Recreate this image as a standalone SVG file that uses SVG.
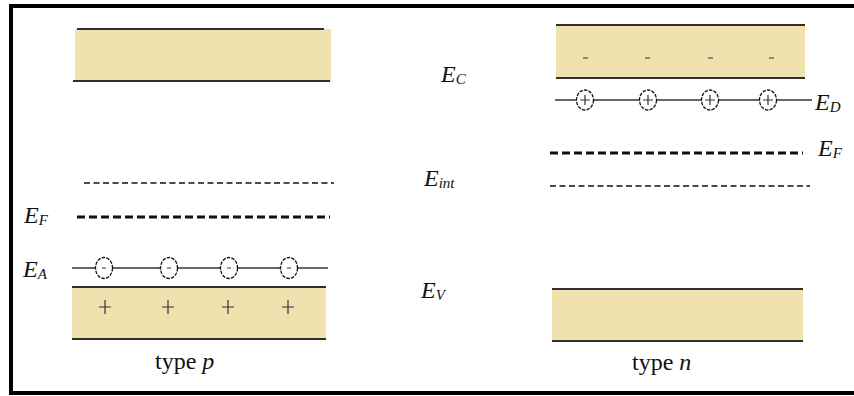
<svg xmlns="http://www.w3.org/2000/svg" width="854" height="396" viewBox="0 0 854 396">
<defs>
<style>
.band{fill:#EFE2AE;stroke:none}
.edge{stroke:#2f2f2f;stroke-width:2;fill:none}
.lvl{stroke:#333;stroke-width:1.5;fill:none}
.ef{stroke:#111;stroke-width:3;stroke-dasharray:8 4;fill:none}
.ei{stroke:#111;stroke-width:1.3;stroke-dasharray:6 3.5;fill:none}
.ion{fill:#fff;stroke:#111;stroke-width:1.3;stroke-dasharray:3.5 1.2}
.sign{stroke:#333;stroke-width:1.2;fill:none}
.lbl{font-family:"Liberation Serif",serif;font-style:italic;font-size:24px;fill:#111}
.sub{font-size:15px}
.cap{font-family:"Liberation Serif",serif;font-size:24px;fill:#111}
</style>
</defs>
<rect x="0" y="0" width="854" height="396" fill="#fff"/>
<path d="M870 6H11V393H870" fill="none" stroke="#000" stroke-width="4"/>

<g id="p-conduction-band">
<rect class="band" x="75" y="29" width="256" height="52"/>
<line class="edge" x1="77" y1="29" x2="324" y2="29"/>
<line class="edge" x1="73" y1="81" x2="330" y2="81"/>
</g>
<g id="p-intrinsic"><line class="ei" x1="84" y1="183" x2="334" y2="183"/></g>
<g id="p-fermi"><line class="ef" x1="77" y1="217" x2="330" y2="217"/></g>
<g id="p-acceptor">
<line class="lvl" x1="72" y1="268" x2="328" y2="268"/>
<ellipse class="ion" cx="104" cy="268" rx="8.5" ry="10.5"/>
<ellipse class="ion" cx="169" cy="268" rx="8.5" ry="10.5"/>
<ellipse class="ion" cx="229" cy="268" rx="8.5" ry="10.5"/>
<ellipse class="ion" cx="289" cy="268" rx="8.5" ry="10.5"/>
<path class="sign" d="M102 268h4M167 268h4M227 268h4M287 268h4"/>
</g>
<g id="p-valence-band">
<rect class="band" x="72" y="287" width="254" height="52"/>
<line class="edge" x1="72" y1="287" x2="326" y2="287"/>
<line class="edge" x1="72" y1="339" x2="326" y2="339"/>
<path class="sign" d="M99 307h12M105 300v14M162 307h12M168 300v14M222 307h12M228 300v14M282 307h12M288 300v14"/>
</g>

<g id="n-conduction-band">
<rect class="band" x="556" y="25" width="249" height="53"/>
<line class="edge" x1="556" y1="25" x2="805" y2="25"/>
<line class="edge" x1="556" y1="78" x2="805" y2="78"/>
<path class="sign" stroke-width="1.6" d="M583 58h5M645 58h5M708 58h5M769 58h5"/>
</g>
<g id="n-donor">
<line class="lvl" x1="555" y1="100" x2="812" y2="100"/>
<ellipse class="ion" cx="585" cy="100" rx="8.5" ry="10"/>
<ellipse class="ion" cx="648" cy="100" rx="8.5" ry="10"/>
<ellipse class="ion" cx="710" cy="100" rx="8.5" ry="10"/>
<ellipse class="ion" cx="768" cy="100" rx="8.5" ry="10"/>
<path class="sign" d="M580 100h10M585 95v10M643 100h10M648 95v10M705 100h10M710 95v10M763 100h10M768 95v10"/>
</g>
<g id="n-fermi"><line class="ef" x1="550" y1="153" x2="803" y2="153"/></g>
<g id="n-intrinsic"><line class="ei" x1="550" y1="186" x2="810" y2="186"/></g>
<g id="n-valence-band">
<rect class="band" x="552" y="289" width="251" height="52"/>
<line class="edge" x1="552" y1="289" x2="803" y2="289"/>
<line class="edge" x1="552" y1="341" x2="803" y2="341"/>
</g>

<g id="labels">
<text class="lbl" x="441" y="82">E<tspan class="sub" dy="2">C</tspan></text>
<text class="lbl" x="424" y="186">E<tspan class="sub" dy="2">int</tspan></text>
<text class="lbl" x="421" y="298">E<tspan class="sub" dy="2">V</tspan></text>
<text class="lbl" x="24" y="223">E<tspan class="sub" dy="2">F</tspan></text>
<text class="lbl" x="23" y="277">E<tspan class="sub" dy="2">A</tspan></text>
<text class="lbl" x="815" y="110">E<tspan class="sub" dy="2">D</tspan></text>
<text class="lbl" x="818" y="156">E<tspan class="sub" dy="2">F</tspan></text>
<text class="cap" x="155" y="369">type <tspan font-style="italic">p</tspan></text>
<text class="cap" x="632" y="370">type <tspan font-style="italic">n</tspan></text>
</g>
</svg>
